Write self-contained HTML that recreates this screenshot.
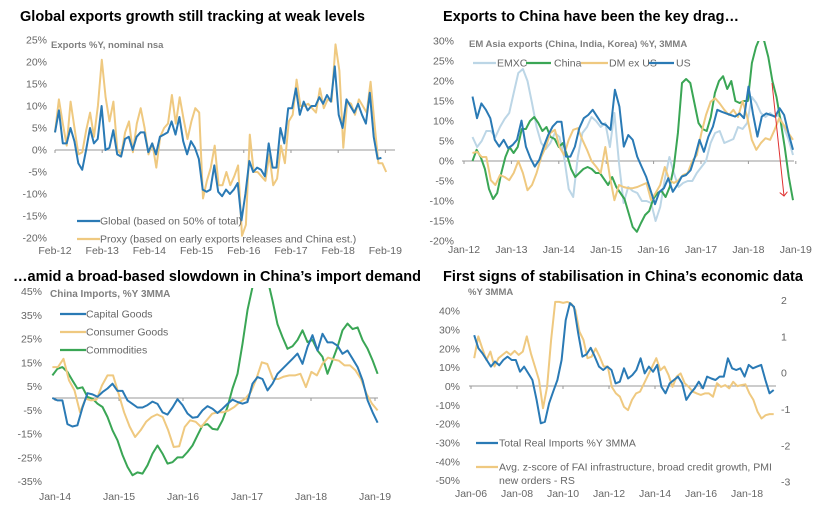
<!DOCTYPE html>
<html><head><meta charset="utf-8"><style>
html,body{margin:0;padding:0;background:#fff;}
svg{display:block;font-family:"Liberation Sans",Arial,sans-serif;}
.t{font-weight:bold;font-size:14.5px;fill:#000;}
.ax{font-size:10.5px;fill:#666;}
.sub{font-weight:bold;font-size:9.5px;fill:#7f7f7f;}
.lg{font-size:10.5px;fill:#666;}
</style></head><body>
<svg id="c" width="822" height="520" viewBox="0 0 822 520">
<defs>
<clipPath id="clip2"><rect x="440" y="41" width="380" height="210"/></clipPath>
<clipPath id="clip3"><rect x="45" y="288" width="360" height="210"/></clipPath>
<marker id="arr" markerWidth="8" markerHeight="8" refX="4" refY="4" orient="auto"><path d="M0,0 L4,4 L0,8" fill="none" stroke="#e03030" stroke-width="1"/></marker>
</defs>
<text class="t" x="20" y="21" textLength="345">Global exports growth still tracking at weak levels</text>
<text class="t" x="443" y="21" textLength="296">Exports to China have been the key drag…</text>
<text class="t" x="13" y="281" textLength="408">…amid a broad-based slowdown in China’s import demand</text>
<rect x="421" y="262" width="20" height="24" fill="#fff"/>
<text class="t" x="443" y="281" textLength="360">First signs of stabilisation in China’s economic data</text>
<g id="g"></g>
</svg>
<script>
// ---- Panel 1 data (months from Feb-12) ----
const p1Ticks=[-20,-15,-10,-5,0,5,10,15,20,25];
const p1XLabels=['Feb-12','Feb-13','Feb-14','Feb-15','Feb-16','Feb-17','Feb-18','Feb-19'];
const p1GlobalRange=[0,83];
const p1Global=[4,9,1.5,1.5,5,2,-3,-4.5,0,5,1.5,2.5,10,0,0.5,4.5,-1,-1.5,2.5,3,0,3,4,4,-0.5,1.5,-1,3,3.5,4,6.5,3.5,7.5,2,-1,2,0.5,-2,-9,-9.5,-9,-3.5,-9.5,-10.5,-9,-10,-9,-7.5,-16,-10,-2.5,-5,-4,-4.5,-6,1.5,-4,-4,5,1.5,9.5,9.5,14,8,11,9,10,10,12,10.5,12.5,11,19,8,5,11.5,10,8.5,10.5,8,6,13,3,-2,-1.8];
const p1ProxyRange=[0,84.2];
const p1Proxy=[4,11.5,6,1,11,5,-1,-0.5,4.5,8.5,3,10,20.5,12,6.5,11,0,-1,4,6.5,-0.5,6,9.5,5,-1,1.5,-4,3,5,6,12.5,6,12,7,2.5,6.5,9.5,8.5,-11,-7,-4,1,-8,-8,-5,-8,-6,-3.5,-19.5,-17,3.5,-5,-5,-6,-7,-1,-8,-6.5,1,-3,6.5,8,16,10,10,10.5,9.5,8.5,14,9.5,11.5,11,24,18,0.5,11,10.5,8,11.5,10,8.5,15.5,6,-3,-3,-5];
// ---- Panel 2 data (years from Jan-12) ----
const p2Ticks=[-20,-15,-10,-5,0,5,10,15,20,25,30];
const p2XLabels=['Jan-12','Jan-13','Jan-14','Jan-15','Jan-16','Jan-17','Jan-18','Jan-19'];
const p2Range=[0.18,6.94];
const p2Emxc=[6,3.5,5,7.5,7.5,6,8.5,10.5,12,17,22,23,20,14.5,8.5,4.5,3,4.5,7,6,1,-7,-9,1,7,8.5,11,10,8.5,9.5,3.5,12,-0.5,-10.5,-6.5,-7.5,-8,-10,-10,-10.5,-15,-11.5,-4.5,1,-3,-6.5,-5.5,-5,-5,-3,-1.5,0,4.5,7,7.5,4.5,5,5.5,8.5,8,9.5,16,14.5,12,11,12,11,11.5,8.5,5.5,1.5];
const p2China=[0,2.8,1,-2,-7,-9.5,-8,-3,1,3.5,2,3.5,8,8,10,11,9.5,7.5,8.5,6,5.5,3.5,4.5,1.5,-2,-4,-3,-2,-1.5,-2,-3,-3,-4.5,-6,-4,-6.5,-8,-9.5,-13,-16.5,-17.7,-15.5,-13.5,-12.5,-9.5,-8,-7.5,-9,-6.5,-1.5,7,19.5,20.5,19.5,14.5,9.5,8,7.5,11,17,20,21.2,18,20,15,14.5,15,15,24.5,28.5,31,30,26,20,16,10,3.5,-4,-9.8];
const p2Dm=[2,2.3,1,1,-4.8,-6,-3.5,-4,-4.8,-3,0,-3,-7.3,-6,-3,1,3.5,7,7.8,3.5,1.5,5.3,7.8,8.2,5.3,2.8,0,-1.4,-3,3.5,-4,-9.8,-6,-6.5,-6.8,-6.8,-6.5,-6,-5.5,-9.8,-8,-6,-1.5,-4.8,-5.5,-4.8,-3.5,-3,0,1.5,7,11.5,14.8,15.7,14.4,12.8,11.5,12.8,11,15,11,5.3,2.8,4.5,5.7,5.3,7.8,10.7,9,7,5.3];
const p2Us=[16.1,10.7,14.4,12.8,10.7,5.3,3.6,5.3,3.2,4,5.3,10.1,3.6,0.7,-1.4,0.3,3.6,6.5,8.6,9.8,9.8,1.1,1.1,3.6,8.2,10.7,11.5,12.8,11.1,9.4,9,7.8,17.8,13.6,3.6,6.5,5.3,1.1,-1.4,-3.9,-7.3,-10.8,-7.7,-6.8,-4.3,-7.7,-6,-3.9,-3.5,-2.3,1.1,5.3,2.3,6.1,8.6,12.8,12.3,11.9,11.5,11.1,11.9,10.7,18.6,11.9,6.1,11.1,11.9,11.5,11.1,13.2,11.5,6.9,2.8];
// ---- Panel 3 data (years from Jan-14) ----
const p3Ticks=[-35,-25,-15,-5,5,15,25,35,45];
const p3XLabels=['Jan-14','Jan-15','Jan-16','Jan-17','Jan-18','Jan-19'];
const p3Range=[-0.04,5.04];
const p3Capital=[0,-1,-1,-11,-12,-11.5,-4,2,1.5,0.5,2.5,4,6,3,3,-1,-2.5,-4,-4,-3,-1.5,-2.5,-6,-7,-4,-0.5,-3,-6.5,-8.3,-8,-5.2,-3.4,-4.5,-6.3,-4.5,-2.5,-0.7,-1.7,-2.4,-1.7,6,8.8,8,3.2,6,10.2,12.3,14.4,16.5,18.7,14.4,21.5,26.4,20,27,23.4,23.4,22,18.6,20,16.5,13,7.4,-1,-6,-10.4];
const p3Consumer=[13,13,16.5,7.4,3.2,-6,-0.3,-1,-0.7,5.3,9.5,9.5,1.8,-6,-12,-16.4,-13.6,-10,-8,-6.9,-8,-13.6,-20.6,-20.3,-12.2,-9.4,-10,-12.2,-9.4,-6.6,-6,-6,-5.2,-3.8,-1.7,-0.3,2.5,8,15,14.3,8,8,9,9.5,9.5,10.2,4.6,11,9.5,14.4,17,16.2,15.7,13.7,13.7,11.6,8,1.8,-2.4,-5.2];
const p3Commod=[9.5,12.3,13,11,7.4,4,4.5,0.4,-0.3,-2.4,-3.8,-8,-13.6,-17.8,-24,-29,-32.5,-31.3,-31.8,-28.3,-23.4,-20,-23.4,-27.6,-27,-25,-25,-22.7,-20,-15.7,-11.5,-11,-13,-13.3,-9.4,-3.8,4,10.2,22.8,37,46.7,55,56,50,41,31,25.6,20.7,21.8,24.4,28.5,23.5,24.4,20,17.3,10.2,15.8,21.5,28.5,31.3,29,29.7,24.3,20.7,15.8,10.2];
// ---- Panel 4 data (years from Jan-06) ----
const p4Ticks=[-50,-40,-30,-20,-10,0,10,20,30,40];
const p4RTicks=[-3,-2,-1,0,1,2];
const p4XLabels=['Jan-06','Jan-08','Jan-10','Jan-12','Jan-14','Jan-16','Jan-18'];
const p4Range=[0.14,13.16];
const p4Imports=[27,20,17.3,13.8,10.3,13,11,13.8,15.6,13.8,13.8,7.6,10.3,6.7,3.2,-7.4,-19.8,-19,-9.2,-3,3.2,13.8,35,44,42,28,15.6,16.8,20.3,15.6,10.3,8.5,10.3,8.5,1.4,2.3,9.4,4,5.8,8.5,14.7,6.7,10.3,7.6,11.2,-0.4,-3.9,1.4,3.2,5,1.4,-7.4,-3.9,-1.2,2.3,-1.2,5,4,3.2,5,5,14.7,9.4,8.5,9.4,5,11.2,9.4,10.3,11.2,3.2,-3.9,-2.1];
const p4Zscore=[0.4,1,0.67,0.35,0.58,0.17,0.4,0.49,0.58,0.49,0.6,0.49,0.58,1,0.53,0.17,-0.2,-0.98,-0.39,0.9,1.95,1.95,1.92,1.95,1.9,1.72,1.13,0.9,0.4,0.44,0.67,0.44,0.17,0.17,-0.39,-0.57,-0.66,-0.94,-1.03,-0.75,-0.57,-0.52,-0.29,-0.06,0.17,0.4,0.07,0.17,-0.06,-0.39,-0.11,-0.02,-0.29,-0.39,-0.52,-0.57,-0.61,-0.57,-0.57,-0.66,-0.29,-0.39,-0.34,-0.43,-0.25,-0.37,-0.34,-0.32,-0.57,-0.75,-1.07,-1.26,-1.17,-1.14,-1.14];

const NS='http://www.w3.org/2000/svg';
const G=document.getElementById('g');
function mk(tag,attrs,parent){const e=document.createElementNS(NS,tag);for(const k in attrs)e.setAttribute(k,attrs[k]);(parent||G).appendChild(e);return e;}
function txt(s,x,y,cls,anchor){const e=mk('text',{x:x,y:y,class:cls,'text-anchor':anchor||'start'});e.textContent=s;return e;}
function series(name,vals,range,xs,ys,color,w,clip){
  const n=vals.length;let d='';
  vals.forEach((v,i)=>{const t=range[0]+(range[1]-range[0])*i/(n-1);d+=(i?'L':'M')+xs(t).toFixed(1)+','+ys(v).toFixed(1);});
  const p=mk('path',{d:d,fill:'none',stroke:color,'stroke-width':w||2,'stroke-linejoin':'round'});
  if(clip)p.setAttribute('clip-path','url(#'+clip+')');
  
  
}
function legendLine(name,x1,x2,y,color,label,lx){
  const l=mk('line',{x1:x1,x2:x2,y1:y,y2:y,stroke:color,'stroke-width':2.2});
  
  
  const t=txt(label,lx,y+3.5,'lg');
  
  
}
const BLUE='#2a7ab5',TAN='#efc980',GREEN='#3aa655',LBLUE='#bcd6e6';

// Panel 1
const x1=m=>55+m*3.933, y1=v=>150-v*4.4;
p1Ticks.forEach(v=>{const t=txt(v+'%',47,y1(v)+3.5,'ax','end');});
p1XLabels.forEach((s,i)=>{const t=txt(s,x1(i*12),254,'ax','middle');});
mk('line',{x1:55,x2:395,y1:150,y2:150,stroke:'#999','stroke-width':1});
p1XLabels.forEach((s,i)=>mk('line',{x1:x1(i*12),x2:x1(i*12),y1:150,y2:153,stroke:'#999'}));
series('p1-proxy-line',p1Proxy,p1ProxyRange,x1,y1,TAN,2);
series('p1-global-line',p1Global,p1GlobalRange,x1,y1,BLUE,2);
txt('Exports %Y, nominal nsa',51,48,'sub');
legendLine('p1-legend-global',77,100,221,BLUE,'Global (based on 50% of total)',100);
legendLine('p1-legend-proxy',77,100,239,TAN,'Proxy (based on early exports releases and China est.)',100);

// Panel 2
const x2=t=>464+t*47.4, y2=v=>161-v*4;
p2Ticks.forEach(v=>{const t=txt(v+'%',454,y2(v)+3.5,'ax','end');});
p2XLabels.forEach((s,i)=>{const t=txt(s,x2(i),253,'ax','middle');});
mk('line',{x1:462,x2:794,y1:161,y2:161,stroke:'#999','stroke-width':1});
p2XLabels.forEach((s,i)=>mk('line',{x1:x2(i),x2:x2(i),y1:161,y2:164,stroke:'#999'}));
series('p2-emxc-line',p2Emxc,p2Range,x2,y2,LBLUE,2,'clip2');
series('p2-china-line',p2China,p2Range,x2,y2,GREEN,2,'clip2');
series('p2-dm-line',p2Dm,p2Range,x2,y2,TAN,2,'clip2');
series('p2-us-line',p2Us,p2Range,x2,y2,BLUE,2,'clip2');
txt('EM Asia exports (China, India, Korea)  %Y, 3MMA',469,47,'sub');
legendLine('p2-legend-emxc',473,496,63,LBLUE,'EMXC',497);
legendLine('p2-legend-china',526,551,63,GREEN,'China',554);
legendLine('p2-legend-dm',581,608,63,TAN,'DM ex US',609);
legendLine('p2-legend-us',649,674,63,BLUE,'US',676);
const ar=mk('line',{x1:772,y1:83,x2:784,y2:196,stroke:'#e03030','stroke-width':1,'marker-end':'url(#arr)'});



// Panel 3
const x3=t=>55+t*64, y3=v=>398-v*2.377;
p3Ticks.forEach(v=>{const t=txt(v+'%',42,y3(v)+4,'ax','end');});
p3XLabels.forEach((s,i)=>{const t=txt(s,x3(i),500,'ax','middle');});
mk('line',{x1:52,x2:378,y1:398,y2:398,stroke:'#999','stroke-width':1});
p3XLabels.forEach((s,i)=>mk('line',{x1:x3(i),x2:x3(i),y1:398,y2:401,stroke:'#999'}));
series('p3-commodities-line',p3Commod,p3Range,x3,y3,GREEN,2,'clip3');
series('p3-consumer-line',p3Consumer,p3Range,x3,y3,TAN,2,'clip3');
series('p3-capital-line',p3Capital,p3Range,x3,y3,BLUE,2,'clip3');
txt('China Imports, %Y 3MMA',50,297,'sub');
G.lastChild.setAttribute('style','font-size:10px');
legendLine('p3-legend-capital',60,86,314,BLUE,'Capital Goods',86);
legendLine('p3-legend-consumer',60,86,332,TAN,'Consumer Goods',86);
legendLine('p3-legend-commodities',60,86,350,GREEN,'Commodities',86);

// Panel 4
const x4=t=>471+t*23, y4=v=>386-v*1.883, y4r=v=>372.7-v*36.33;
p4Ticks.forEach(v=>{const t=txt(v+'%',460,y4(v)+4,'ax','end');});
p4RTicks.forEach(v=>{const t=txt(String(v),781,y4r(v)+4,'ax','start');});
p4XLabels.forEach((s,i)=>{const t=txt(s,x4(i*2),497,'ax','middle');});
mk('line',{x1:469,x2:776,y1:386,y2:386,stroke:'#999','stroke-width':1});
p4XLabels.forEach((s,i)=>mk('line',{x1:x4(i*2),x2:x4(i*2),y1:386,y2:389,stroke:'#999'}));
series('p4-zscore-line',p4Zscore,p4Range,x4,y4r,TAN,2);
series('p4-imports-line',p4Imports,p4Range,x4,y4,BLUE,2);
txt('%Y 3MMA',468,295,'sub');
legendLine('p4-legend-imports',476,498,443,BLUE,'Total Real Imports %Y 3MMA',499);
legendLine('p4-legend-zscore',476,498,467,TAN,'Avg. z-score of FAI infrastructure, broad credit growth, PMI',499);
txt('new orders - RS',499,484,'lg');
</script>
</body></html>
